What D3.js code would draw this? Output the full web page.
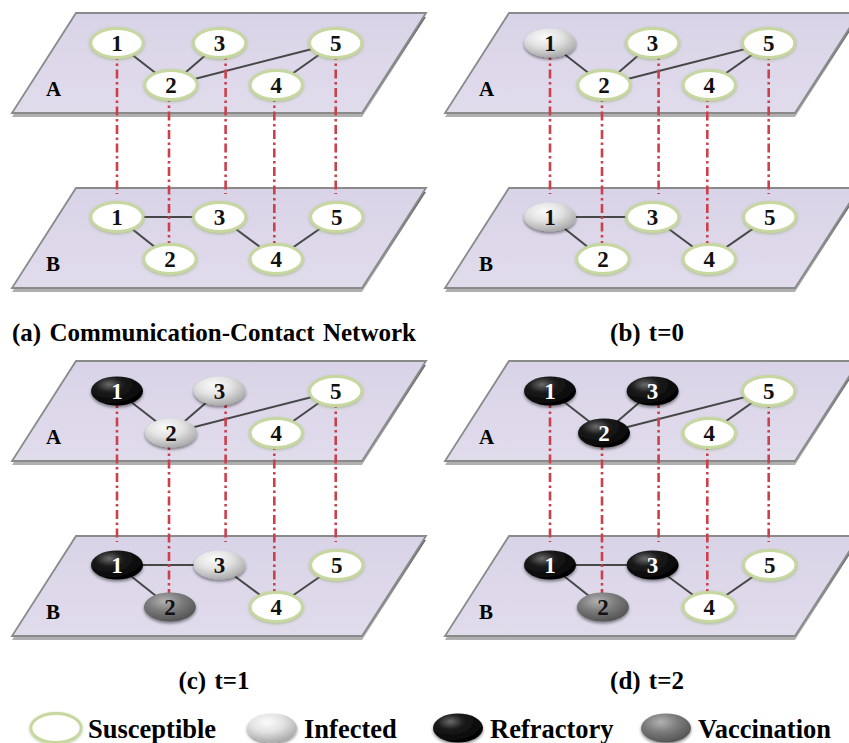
<!DOCTYPE html>
<html lang="en">
<head>
    <meta charset="UTF-8">
    <title>Communication-Contact Network</title>
    <style>
        body { margin: 0; background: #fff; }
        svg { display: block; }
        .title { font-family: "Liberation Serif", "Times New Roman", serif; font-weight: bold; font-size: 25px; text-anchor: middle; word-spacing: 2px; }
        .layer-label { font-family: "Liberation Serif", serif; font-weight: bold; font-size: 21px; }
        .node-label { font-family: "Liberation Serif", serif; font-weight: bold; font-size: 23px; text-anchor: middle; }
        .legend-label { font-family: "Liberation Serif", serif; font-weight: bold; font-size: 26.5px; }
    </style>
</head>
<body>
<div id="chart"></div>
<script src="https://d3js.org/d3.v7.min.js"></script>
<script>
    // nodes of each layer, their column on the plane and row (0 = back, 1 = front)
    const nodeIds = [1, 2, 3, 4, 5];
    const nodeCols = [0, 1, 1.9, 2.95, 4.05];
    const nodeColsB = [0, 0.98, 1.9, 2.95, 4.07];
    const nodeRows = [0, 1, 0, 1, 0];

    // links inside each layer
    const linksA = [[1, 2], [2, 3], [2, 5], [4, 5]];
    const linksB = [[1, 3], [1, 2], [3, 4], [4, 5]];

    // panel titles
    const panelTitles = ["(a) Communication-Contact Network", "(b) t=0", "(c) t=1", "(d) t=2"];

    // states per panel: S susceptible, I infected, R refractory, V vaccination
    const statesA = [
        ["S", "S", "S", "S", "S"],
        ["I", "S", "S", "S", "S"],
        ["R", "I", "I", "S", "S"],
        ["R", "R", "R", "S", "S"]
    ];
    const statesB = [
        ["S", "S", "S", "S", "S"],
        ["I", "S", "S", "S", "S"],
        ["R", "V", "I", "S", "S"],
        ["R", "V", "R", "S", "S"]
    ];

    // legend
    const legendKeys = ["S", "I", "R", "V"];
    const legendNames = ["Susceptible", "Infected", "Refractory", "Vaccination"];

    const width = 849, height = 743;
    const panelDx = 433, panelDy = 348;
    const layerDy = 174;

    const svg = d3.select("#chart").append("svg")
        .attr("width", width)
        .attr("height", height);

    const defs = svg.append("defs");

    // gradients for the node styles
    function radial(id, stops, cx, cy) {
        const g = defs.append("radialGradient").attr("id", id)
            .attr("cx", cx).attr("cy", cy).attr("r", "75%");
        stops.forEach(s => g.append("stop").attr("offset", s[0]).attr("stop-color", s[1]));
    }
    radial("grad-S", [["0%", "#ffffff"], ["75%", "#ffffff"], ["100%", "#eeeeee"]], "45%", "35%");
    radial("grad-I", [["0%", "#fbfbfb"], ["45%", "#e2e2e2"], ["100%", "#a4a4a4"]], "40%", "30%");
    radial("grad-R", [["0%", "#6a6a6a"], ["35%", "#1c1c1c"], ["100%", "#000000"]], "35%", "28%");
    radial("grad-V", [["0%", "#b2b2b2"], ["45%", "#7c7c7c"], ["100%", "#4f4f4f"]], "40%", "30%");

    const planeGrad = defs.append("linearGradient").attr("id", "plane-grad")
        .attr("x1", 0).attr("y1", 0).attr("x2", 0).attr("y2", 1);
    planeGrad.append("stop").attr("offset", "0%").attr("stop-color", "#d9d3e7");
    planeGrad.append("stop").attr("offset", "100%").attr("stop-color", "#e1dcec");

    const edgeGrad = defs.append("linearGradient").attr("id", "edge-grad")
        .attr("x1", 0).attr("y1", 0).attr("x2", 0).attr("y2", 1);
    edgeGrad.append("stop").attr("offset", "0%").attr("stop-color", "#686868");
    edgeGrad.append("stop").attr("offset", "100%").attr("stop-color", "#b0b0b0");

    const shadow = defs.append("filter").attr("id", "shadow")
        .attr("x", "-30%").attr("y", "-30%").attr("width", "160%").attr("height", "170%");
    shadow.append("feDropShadow").attr("dx", 0).attr("dy", 2)
        .attr("stdDeviation", 1.6).attr("flood-color", "#000").attr("flood-opacity", 0.45);

    const glow = defs.append("filter").attr("id", "glow")
        .attr("x", "-30%").attr("y", "-30%").attr("width", "160%").attr("height", "170%");
    glow.append("feDropShadow").attr("dx", 0).attr("dy", 1)
        .attr("stdDeviation", 1.6).attr("flood-color", "#8fa86a").attr("flood-opacity", 0.65);

    const nodeStyle = {
        S: { fill: "url(#grad-S)", stroke: "#c6d79f", sw: 2.8, filter: "url(#glow)", text: "#111" },
        I: { fill: "url(#grad-I)", stroke: "none", sw: 0, filter: "url(#shadow)", text: "#111" },
        R: { fill: "url(#grad-R)", stroke: "none", sw: 0, filter: "url(#shadow)", text: "#fff" },
        V: { fill: "url(#grad-V)", stroke: "none", sw: 0, filter: "url(#shadow)", text: "#111" }
    };

    // scales for node placement on a plane
    const xCol = d3.scaleLinear().domain([0, 1]).range([117, 171]);
    const yRow = d3.scaleLinear().domain([0, 1]).range([43, 85]);

    const rx = 26, ry = 14.5;

    function planePoints(top) {
        const x0 = 76, w = 350, h = 100, skew = 64;
        return [[x0, top], [x0 + w, top], [x0 + w - skew, top + h], [x0 - skew, top + h]];
    }

    function drawPlane(g, top, label) {
        const pts = planePoints(top);
        g.append("polygon")
            .attr("points", pts.map(p => [p[0], p[1] + 4].join(",")).join(" "))
            .attr("fill", "url(#edge-grad)");
        g.append("polygon")
            .attr("points", pts.map(p => p.join(",")).join(" "))
            .attr("fill", "url(#plane-grad)")
            .attr("stroke", "#8a8a8a")
            .attr("stroke-width", 1.8);
        g.append("text").attr("class", "layer-label")
            .attr("x", 46).attr("y", top + 83).text(label);
    }

    function pos(i, layer) {
        const cols = layer === 0 ? nodeCols : nodeColsB;
        return [xCol(cols[i]), yRow(nodeRows[i]) + layer * layerDy];
    }

    function drawPanel(p) {
        const g = svg.append("g")
            .attr("transform", `translate(${(p % 2) * panelDx},${Math.floor(p / 2) * panelDy})`);

        drawPlane(g, 13, "A");
        drawPlane(g, 13 + layerDy + 1, "B");

        // links within layers
        [linksA, linksB].forEach((links, layer) => {
            g.selectAll(null).data(links).enter().append("line")
                .attr("x1", d => pos(d[0] - 1, layer)[0])
                .attr("y1", d => pos(d[0] - 1, layer)[1])
                .attr("x2", d => pos(d[1] - 1, layer)[0])
                .attr("y2", d => pos(d[1] - 1, layer)[1])
                .attr("stroke", "#474747")
                .attr("stroke-width", 2);
        });

        // inter-layer couplings (dash-dot)
        g.selectAll(null).data(nodeIds).enter().append("line")
            .attr("x1", (d, i) => pos(i, 0)[0] + (d === 3 ? 6 : 0) - (d === 2 || d === 4 ? 2 : 0))
            .attr("x2", (d, i) => pos(i, 0)[0] + (d === 3 ? 6 : 0) - (d === 2 || d === 4 ? 2 : 0))
            .attr("y1", (d, i) => pos(i, 0)[1] + 8)
            .attr("y2", (d, i) => nodeRows[i] === 0 ? 13 + layerDy + 7 : pos(i, 1)[1] - 8)
            .attr("stroke", "#cd3f4b")
            .attr("stroke-width", 2.6)
            .attr("stroke-dasharray", "9,3.5,2.5,3.5");

        // nodes
        [statesA[p], statesB[p]].forEach((states, layer) => {
            const ng = g.selectAll(null).data(nodeIds).enter().append("g")
                .attr("transform", (d, i) => `translate(${pos(i, layer)})`);
            ng.append("ellipse")
                .attr("rx", rx).attr("ry", ry)
                .attr("fill", (d, i) => nodeStyle[states[i]].fill)
                .attr("stroke", (d, i) => nodeStyle[states[i]].stroke)
                .attr("stroke-width", (d, i) => nodeStyle[states[i]].sw)
                .attr("filter", (d, i) => nodeStyle[states[i]].filter);
            ng.append("text").attr("class", "node-label")
                .attr("y", 8)
                .attr("fill", (d, i) => nodeStyle[states[i]].text)
                .text(d => d);
        });

        g.append("text").attr("class", "title")
            .attr("x", 214).attr("y", 341)
            .text(panelTitles[p]);
    }

    d3.range(4).forEach(drawPanel);

    // legend
    const legendX = d3.scaleOrdinal().domain(legendKeys).range([56, 272, 458, 666]);
    const lg = svg.append("g").attr("transform", "translate(0,728)");
    const items = lg.selectAll(null).data(legendKeys).enter().append("g")
        .attr("transform", d => `translate(${legendX(d)},0)`);
    items.append("ellipse")
        .attr("rx", 25).attr("ry", 14.5)
        .attr("fill", d => nodeStyle[d].fill)
        .attr("stroke", d => nodeStyle[d].stroke)
        .attr("stroke-width", d => nodeStyle[d].sw)
        .attr("filter", d => nodeStyle[d].filter);
    items.append("text").attr("class", "legend-label")
        .attr("x", 32).attr("y", 10)
        .text((d, i) => legendNames[i]);
</script>
</body>
</html>
